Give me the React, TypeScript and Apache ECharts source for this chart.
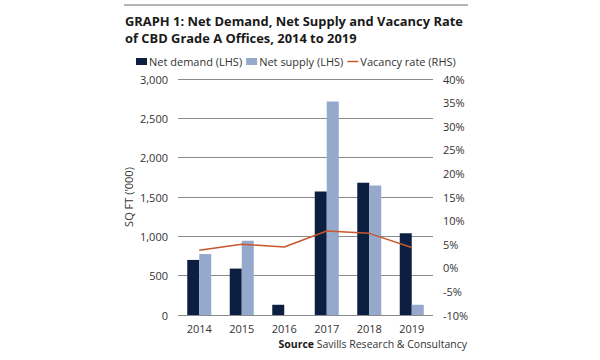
import React, { useEffect, useRef } from "react";
import * as echarts from "echarts";

const years = ["2014", "2015", "2016", "2017", "2018", "2019"];
const netDemand = [700, 590, 130, 1570, 1680, 1040];
const netSupply = [775, 945, 0, 2715, 1645, 130];
const vacancyRate = [3.7, 5.0, 4.4, 7.8, 7.3, 4.3];

const FONT = "Open Sans";
const TITLE_1 = "GRAPH 1: Net Demand, Net Supply and Vacancy Rate";
const TITLE_2 = "of CBD Grade A Offices, 2014 to 2019";

export default function App() {
  const ref = useRef<HTMLDivElement>(null);
  useEffect(() => {
    const chart = echarts.init(ref.current!, null, { renderer: "svg" });
    chart.setOption({
      animation: false,
      backgroundColor: "#ffffff",
      textStyle: { fontFamily: FONT },
      graphic: [
        {
          type: "line",
          shape: { x1: 124, y1: 5, x2: 468, y2: 5 },
          style: { stroke: "#b5b5b5", lineWidth: 2 },
        },
        {
          type: "text",
          left: 125,
          top: 14,
          style: { text: TITLE_1, font: `bold 12.9px "${FONT}"`, fill: "#1a1a1a" },
        },
        {
          type: "text",
          left: 125,
          top: 31,
          style: { text: TITLE_2, font: `bold 12.9px "${FONT}"`, fill: "#1a1a1a" },
        },
        {
          type: "text",
          right: 133,
          top: 338,
          style: {
            text: "{b|Source} Savills Research & Consultancy",
            rich: {
              b: { fontWeight: "bold", fontSize: 10.5, fontFamily: FONT, fill: "#1a1a1a" },
            },
            font: `10.5px "${FONT}"`,
            fill: "#333",
          },
        },
      ],
      legend: {
        left: 136,
        top: 56,
        padding: 0,
        itemGap: 4,
        itemWidth: 11,
        itemHeight: 7,
        textStyle: { fontSize: 11, color: "#333", fontFamily: FONT, padding: [0, 0, 0, -3] },
        data: [
          { name: "Net demand (LHS)", icon: "rect" },
          { name: "Net supply (LHS)", icon: "rect" },
          { name: "Vacancy rate (RHS)", icon: "path://M0,0 L12,0 L12,1.6 L0,1.6 Z", itemStyle: { color: "#c8562e" } },
        ],
      },
      grid: { left: 178, right: 167, top: 79, bottom: 45 },
      xAxis: {
        type: "category",
        data: years,
        axisLine: { show: false },
        axisTick: { show: false },
        axisLabel: { color: "#333", fontSize: 11, margin: 8, fontFamily: FONT },
      },
      yAxis: [
        {
          type: "value",
          min: 0,
          max: 3000,
          interval: 500,
          name: "SQ FT ('000)",
          nameLocation: "middle",
          nameRotate: 90,
          nameGap: 44,
          nameTextStyle: { color: "#333", fontSize: 11, fontFamily: FONT },
          axisLine: { show: false },
          axisTick: { show: false },
          axisLabel: {
            color: "#333",
            fontSize: 11,
            margin: 10,
            fontFamily: FONT,
            formatter: (v: number) => v.toLocaleString("en-US"),
          },
          splitLine: { lineStyle: { color: "#8a8a8a", width: 1 } },
        },
        {
          type: "value",
          min: -10,
          max: 40,
          interval: 5,
          position: "right",
          axisLine: { show: false },
          axisTick: { show: false },
          axisLabel: { color: "#333", fontSize: 11, margin: 10, fontFamily: FONT, formatter: "{value}%" },
          splitLine: { show: false },
        },
      ],
      series: [
        {
          name: "Net demand (LHS)",
          type: "bar",
          data: netDemand,
          barWidth: 12,
          barGap: "0%",
          itemStyle: { color: "#0d1f40" },
        },
        {
          name: "Net supply (LHS)",
          type: "bar",
          data: netSupply,
          barWidth: 12,
          barGap: "0%",
          itemStyle: { color: "#94a9cb" },
        },
        {
          name: "Vacancy rate (RHS)",
          type: "line",
          yAxisIndex: 1,
          data: vacancyRate,
          symbol: "none",
          lineStyle: { color: "#c8562e", width: 1.5 },
          itemStyle: { color: "#c8562e" },
        },
      ],
    });
    return () => chart.dispose();
  }, []);
  return (
    <div
      ref={ref}
      style={{ position: "fixed", left: 0, top: 0, width: 600, height: 360 }}
    />
  );
}
